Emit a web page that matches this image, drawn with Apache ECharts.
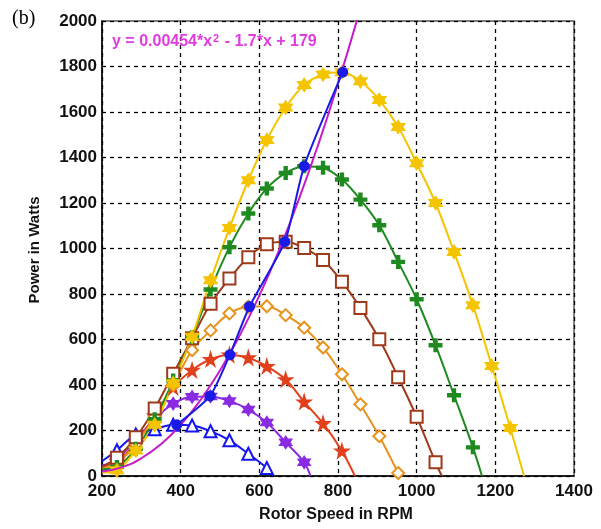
<!DOCTYPE html>
<html>
<head>
<meta charset="utf-8">
<script src="https://cdn.jsdelivr.net/npm/echarts@6/dist/echarts.min.js"></script>
<style>
  html, body { margin: 0; padding: 0; background: #fff; }
  #chart { width: 601px; height: 529px; }
</style>
</head>
<body>
<div id="chart"></div>
<script>
// rotor speed where the markers sit (first entry is the curve start, no marker)
const rpm = [200, 238, 286, 334, 381, 429, 476, 524, 572, 619, 667, 714, 762, 810, 857, 905, 953, 1000, 1048, 1095, 1143, 1191, 1238];

// power curves (W)
const pTriangle = [65, 113, 183, 205, 225, 222, 197, 157, 98, 35];
const pPurple   = [45, 75, 160, 250, 318, 348, 350, 330, 292, 235, 148, 60];
const pRed      = [40, 65, 145, 265, 390, 465, 513, 532, 520, 482, 424, 326, 231, 110];
const pOrange   = [35, 55, 140, 260, 400, 553, 640, 715, 744, 746, 707, 652, 565, 447, 315, 175, 13];
const pBrown    = [40, 80, 170, 297, 450, 605, 757, 868, 962, 1019, 1030, 1002, 949, 854, 738, 601, 434, 260, 60];
const pGreen    = [30, 40, 120, 250, 420, 610, 820, 1006, 1154, 1264, 1332, 1362, 1355, 1303, 1215, 1102, 941, 777, 575, 355, 126];
const pYellow   = [15, 25, 112, 225, 408, 612, 860, 1090, 1300, 1477, 1620, 1719, 1765, 1775, 1735, 1653, 1534, 1375, 1200, 985, 751, 484, 211];

// rpm where each curve drops to zero
const zeroAt = { tri: 636, purple: 730, red: 843, orange: 955, brown: 1064, green: 1166, yellow: 1273 };

// maximum power points
const maxRpm = [390, 475, 525, 575, 665, 714, 812];
const maxPow = [225, 352, 533, 745, 1030, 1362, 1775];

// quadratic fit, points
const fitRpm = [200, 250, 300, 350, 400, 450, 500, 550, 600, 650, 700, 750, 800, 850];
const fitPow = [20, 38, 78, 140, 225, 333, 464, 617, 793, 992, 1214, 1458, 1725, 2014];

const xTicks = [200, 400, 600, 800, 1000, 1200, 1400];
const yTicks = [0, 200, 400, 600, 800, 1000, 1200, 1400, 1600, 1800, 2000];

const star5 = 'path://M50,0L61,35H98L68,57L79,91L50,70L21,91L32,57L2,35H39Z';
const star6 = 'path://M50,0L64,25H93L79,50L93,75H64L50,100L36,75H7L21,50L7,25H36Z';
const plus = 'path://M4,0H6V4H10V6H6V10H4V6H0V4H4Z';

function curve(name, vals, endX, color, symbol, size) {
  const data = vals.map((v, i) => i === 0
    ? { value: [rpm[i], v], symbol: 'none' }
    : [rpm[i], v]);
  data.push({ value: [endX, 0], symbol: 'none' });
  return {
    name: name,
    type: 'line',
    smooth: 0.35,
    data: data,
    symbol: symbol,
    symbolSize: size,
    showAllSymbol: true,
    lineStyle: { color: color, width: 2 },
    itemStyle: { color: color, borderColor: color, borderWidth: 2 },
    z: 2
  };
}

const chart = echarts.init(document.getElementById('chart'));

chart.setOption({
  animation: false,
  backgroundColor: '#fff',
  grid: { left: 102, right: 27, top: 21, bottom: 53, show: true, borderColor: '#555', borderWidth: 1.5 },
  xAxis: {
    type: 'value',
    min: 200, max: 1400, interval: 200,
    axisLine: { lineStyle: { color: '#000', width: 1.5 } },
    axisTick: { show: false },
    axisLabel: {
      color: '#111', fontFamily: 'Liberation Sans', fontWeight: 'bold', fontSize: 17, margin: 7,
      formatter: v => xTicks.includes(v) ? String(v) : ''
    },
    splitLine: { lineStyle: { color: '#000', type: [4, 4], width: 1.3 } }
  },
  yAxis: {
    type: 'value',
    min: 0, max: 2000, interval: 200,
    axisLine: { show: true, lineStyle: { color: '#000', width: 1.5 } },
    axisTick: { show: false },
    axisLabel: {
      color: '#111', fontFamily: 'Liberation Sans', fontWeight: 'bold', fontSize: 17, margin: 5,
      formatter: v => yTicks.includes(v) ? String(v) : ''
    },
    splitLine: { lineStyle: { color: '#000', type: [4, 4], width: 1.3 } }
  },
  series: [
    curve('tri', pTriangle, zeroAt.tri, '#1515f0', 'emptyTriangle', 12),
    curve('purple', pPurple, zeroAt.purple, '#8a2be2', star6, 11),
    curve('red', pRed, zeroAt.red, '#e2401c', star5, 12),
    curve('orange', pOrange, zeroAt.orange, '#e8921e', 'emptyDiamond', 12),
    curve('brown', pBrown, zeroAt.brown, '#9e3a1a', 'emptyRect', 12),
    curve('green', pGreen, zeroAt.green, '#1f8a1f', plus, 12),
    curve('yellow', pYellow, zeroAt.yellow, '#f5c400', star6, 12),
    {
      name: 'fit',
      type: 'line',
      smooth: true,
      symbol: 'none',
      data: fitRpm.map((x, i) => [x, fitPow[i]]),
      lineStyle: { color: '#c51bc8', width: 2 },
      z: 4
    },
    {
      name: 'max',
      type: 'line',
      smooth: 0.2,
      symbol: 'circle',
      symbolSize: 11,
      data: maxRpm.map((x, i) => [x, maxPow[i]]),
      lineStyle: { color: '#1a1ae6', width: 2 },
      itemStyle: { color: '#1a1ae6' },
      z: 5
    }
  ],
  graphic: [
    {
      type: 'text', left: 12, top: 9,
      style: { text: '(b)', font: '20px "Liberation Serif"', fill: '#000' }
    },
    {
      type: 'text', x: 112, y: 33,
      style: {
        text: 'y = 0.00454*x{s|2} - 1.7*x + 179',
        font: 'bold 16px "Liberation Sans"',
        fill: '#e03ce0',
        rich: { s: { fontSize: 11, fontWeight: 'bold', fill: '#e03ce0', verticalAlign: 'top', padding: [0, 1, 7, 1] } }
      },
      z: 10
    },
    {
      type: 'text', x: 35, y: 250, rotation: Math.PI / 2,
      style: {
        text: 'Power in Watts', font: 'bold 15px "Liberation Sans"', fill: '#111',
        align: 'center', verticalAlign: 'middle'
      }
    },
    {
      type: 'text', x: 336, y: 515,
      style: {
        text: 'Rotor Speed in RPM', font: 'bold 16px "Liberation Sans"', fill: '#111',
        align: 'center', verticalAlign: 'middle'
      }
    }
  ]
});
</script>
</body>
</html>
